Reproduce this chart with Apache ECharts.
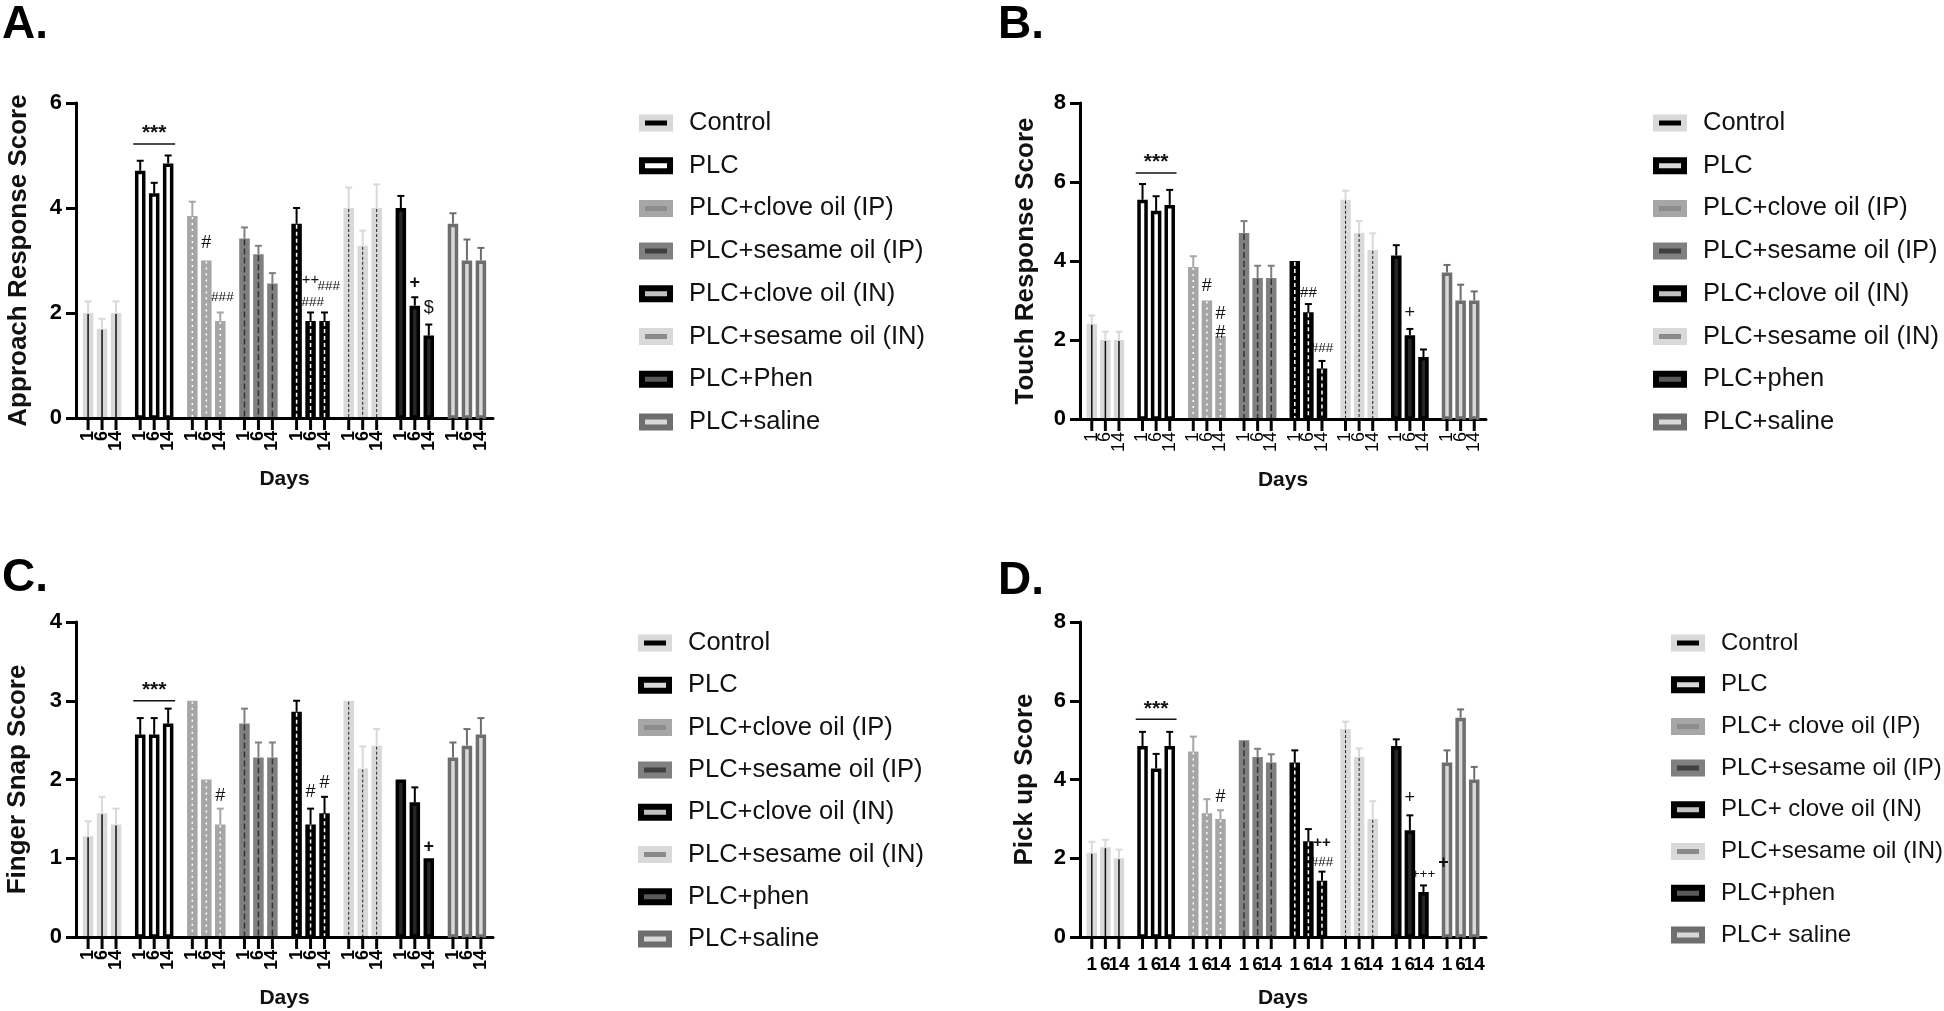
<!DOCTYPE html>
<html><head><meta charset="utf-8">
<script src="https://cdn.jsdelivr.net/npm/echarts@6/dist/echarts.min.js"></script>
<style>html,body{margin:0;padding:0;background:#fff}#c{width:1944px;height:1011px}</style>
</head><body><div id="c"></div>
<script>
// ---------------- DATA ----------------
const dayLabels = ['1', '6', '14'];
const groupsA = ['Control', 'PLC', 'PLC+clove oil (IP)', 'PLC+sesame oil (IP)', 'PLC+clove oil (IN)', 'PLC+sesame oil (IN)', 'PLC+Phen', 'PLC+saline'];
const groupsB = ['Control', 'PLC', 'PLC+clove oil (IP)', 'PLC+sesame oil (IP)', 'PLC+clove oil (IN)', 'PLC+sesame oil (IN)', 'PLC+phen', 'PLC+saline'];
const groupsC = ['Control', 'PLC', 'PLC+clove oil (IP)', 'PLC+sesame oil (IP)', 'PLC+clove oil (IN)', 'PLC+sesame oil (IN)', 'PLC+phen', 'PLC+saline'];
const groupsD = ['Control', 'PLC', 'PLC+ clove oil (IP)', 'PLC+sesame oil (IP)', 'PLC+ clove oil (IN)', 'PLC+sesame oil (IN)', 'PLC+phen', 'PLC+ saline'];

const meanA = [[2.0, 1.7, 2.0], [4.71, 4.28, 4.85], [3.85, 3.0, 1.85], [3.42, 3.12, 2.56], [3.7, 1.85, 1.85], [4.0, 3.28, 4.0], [4.0, 2.14, 1.57], [3.7, 3.0, 3.0]];
const errA  = [[0.22, 0.19, 0.22], [0.19, 0.2, 0.15], [0.27, 0, 0.16], [0.21, 0.16, 0.2], [0.3, 0.16, 0.16], [0.39, 0.29, 0.45], [0.23, 0.16, 0.21], [0.2, 0.4, 0.24]];
const meanB = [[2.41, 2.0, 2.0], [5.55, 5.27, 5.42], [3.85, 3.0, 2.1], [4.71, 3.57, 3.57], [4.0, 2.7, 1.28], [5.55, 4.71, 4.28], [4.14, 2.12, 1.57], [3.71, 3.0, 3.0]];
const errB  = [[0.21, 0.21, 0.21], [0.4, 0.37, 0.38], [0.27, 0, 0], [0.3, 0.31, 0.31], [0, 0.21, 0.19], [0.23, 0.3, 0.42], [0.26, 0.16, 0.19], [0.19, 0.4, 0.23]];
const meanC = [[1.28, 1.57, 1.43], [2.57, 2.57, 2.71], [3.0, 2.0, 1.43], [2.71, 2.28, 2.28], [2.86, 1.43, 1.57], [3.0, 2.14, 2.43], [2.0, 1.71, 1.0], [2.28, 2.43, 2.57]];
const errC  = [[0.19, 0.21, 0.2], [0.21, 0.21, 0.19], [0, 0, 0.2], [0.19, 0.19, 0.19], [0.14, 0.2, 0.21], [0, 0.28, 0.21], [0, 0.19, 0], [0.19, 0.21, 0.21]];
const meanD = [[2.14, 2.28, 2.0], [4.85, 4.28, 4.85], [4.71, 3.14, 3.0], [5.0, 4.57, 4.43], [4.43, 2.43, 1.43], [5.28, 4.57, 3.0], [4.85, 2.71, 1.14], [4.43, 5.57, 4.0]];
const errD  = [[0.28, 0.19, 0.22], [0.36, 0.37, 0.36], [0.38, 0.36, 0.22], [0, 0.21, 0.21], [0.31, 0.31, 0.23], [0.19, 0.22, 0.45], [0.17, 0.38, 0.17], [0.31, 0.21, 0.32]];

// annotations: [group, position within group (day slot), text, y value, bold]
const annA = [[2, 1, '#', 3.33, 0], [2, 2.15, '###', 2.29, 0], [4, 1, '++', 2.63, 0], [4, 2.3, '###', 2.51, 0], [4, 1.15, '###', 2.21, 0], [6, 1, '+', 2.57, 1], [6, 2, '$', 2.1, 0]];
const annB = [[2, 1, '#', 3.37, 0], [2, 2, '#', 2.66, 0], [2, 2, '#', 2.18, 0], [4, 1, '##', 3.19, 0], [4, 2, '###', 1.8, 0], [6, 1, '+', 2.68, 0]];
const annC = [[2, 2, '#', 1.79, 0], [4, 1, '#', 1.84, 0], [4, 2, '#', 1.96, 0], [6, 2, '+', 1.14, 1]];
const annD = [[2, 2, '#', 3.55, 0], [4, 2, '++', 2.39, 1], [4, 2, '###', 1.9, 0], [6, 1, '+', 3.53, 0], [6, 2, '+++', 1.6, 0], [7, -0.25, '+', 1.88, 1]];

// significance bar over PLC group: [group, y value]
const sigA = [1, 5.22];
const sigB = [1, 6.23];
const sigC = [1, 3.0];
const sigD = [1, 5.53];

// ---------------- STYLES ----------------
const FONT = '"Liberation Sans", Arial, Helvetica, sans-serif';
const barStyles = [
  { fill: '#d9d9d9', center: '#111', cw: 1.5, dash: null, err: '#d9d9d9' },
  { fill: '#ffffff', stroke: '#000', lw: 3.5, err: '#000' },
  { fill: '#a6a6a6', center: '#fff', cw: 1.5, dash: [2, 4], err: '#a6a6a6' },
  { fill: '#808080', center: '#333', cw: 1.5, dash: [6, 3], err: '#808080' },
  { fill: '#000000', center: '#fff', cw: 1.5, dash: [4, 3], err: '#000' },
  { fill: '#d9d9d9', center: '#222', cw: 1, dash: [3, 2], err: '#d9d9d9' },
  { fill: '#262626', stroke: '#000', lw: 3.5, err: '#000' },
  { fill: '#d9d9d9', stroke: '#6e6e6e', lw: 3.5, err: '#6e6e6e' }
];
const legendIcons = [
  { color: '#000', borderColor: '#d9d9d9' },
  { color: '#d9d9d9', borderColor: '#000' },
  { color: '#8c8c8c', borderColor: '#a6a6a6' },
  { color: '#404040', borderColor: '#808080' },
  { color: '#c0c0c0', borderColor: '#000' },
  { color: '#8a8a8a', borderColor: '#d9d9d9' },
  { color: '#595959', borderColor: '#000' },
  { color: '#d9d9d9', borderColor: '#6e6e6e' }
];

const panels = [
  { title: 'A.', tl: 2, tt: 2, yName: 'Approach Response Score', yGap: 44, max: 6, interval: 2, names: groupsA, mean: meanA, err: errA, ann: annA, sig: sigA,
    grid: { left: 76, top: 103, width: 417, height: 315 }, tick: 'rotBold', leg: { left: 639, top: 110, gap: 16.7, fs: 25.5 }, plcWhite: true },
  { title: 'B.', tl: 998, tt: 2, yName: 'Touch Response Score', yGap: 41, max: 8, interval: 2, names: groupsB, mean: meanB, err: errB, ann: annB, sig: sigB,
    grid: { left: 1080, top: 103, width: 406, height: 316 }, tick: 'rot', leg: { left: 1653, top: 110, gap: 16.7, fs: 25.5 } },
  { title: 'C.', tl: 2, tt: 555, yName: 'Finger Snap Score', yGap: 45, max: 4, interval: 1, names: groupsC, mean: meanC, err: errC, ann: annC, sig: sigC,
    grid: { left: 76, top: 622, width: 417, height: 315 }, tick: 'rotBold', leg: { left: 638, top: 630, gap: 16.3, fs: 25.5 } },
  { title: 'D.', tl: 998, tt: 558, yName: 'Pick up Score', yGap: 42, max: 8, interval: 2, names: groupsD, mean: meanD, err: errD, ann: annD, sig: sigD,
    grid: { left: 1080, top: 622, width: 406, height: 315 }, tick: 'horiz', leg: { left: 1671, top: 630, gap: 15.7, fs: 24 } }
];

const STEP = 0.268; // spacing of bars within group as fraction of band
const BAR_W = 10.5;

function makeBar(p, gi) {
  const st = barStyles[gi];
  return function (params, api) {
    const g = api.value(0), d = api.value(1), m = api.value(2), e = api.value(3);
    const band = api.size([1, 0])[0];
    const step = band * STEP;
    const base = api.coord([g, 0]);
    const x = base[0] + (d - 1) * step;
    const y0 = base[1];
    const yt = api.coord([g, m])[1];
    const ye = api.coord([g, m + e])[1];
    const ch = [];
    const lw = st.stroke ? st.lw : 0;
    ch.push({ type: 'rect', shape: { x: x - BAR_W / 2 + lw / 2, y: yt + lw / 2, width: BAR_W - lw, height: Math.max(0, y0 - 1 - yt - lw / 2) },
      style: { fill: st.fill, stroke: st.stroke || null, lineWidth: lw } });
    if (st.center) {
      ch.push({ type: 'line', shape: { x1: x, y1: yt + 1, x2: x, y2: y0 - 1 }, style: { stroke: st.center, lineWidth: st.cw, lineDash: st.dash || null } });
    }
    if (e > 0) {
      ch.push({ type: 'line', shape: { x1: x, y1: yt, x2: x, y2: ye }, style: { stroke: st.err, lineWidth: 2 } });
      ch.push({ type: 'line', shape: { x1: x - 3.5, y1: ye, x2: x + 3.5, y2: ye }, style: { stroke: st.err, lineWidth: 2 } });
    }
    ch.push({ type: 'line', shape: { x1: x, y1: y0, x2: x, y2: y0 + 12 }, style: { stroke: '#000', lineWidth: 3 } });
    const txt = dayLabels[d];
    if (p.tick === 'horiz') {
      ch.push({ type: 'text', x: x, y: y0 + 28, style: { text: txt, align: 'center', verticalAlign: 'middle', fontSize: 19, fontWeight: 'bold', fontFamily: FONT, fill: '#000' } });
    } else {
      ch.push({ type: 'text', x: x, y: y0 + 13, rotation: Math.PI / 2,
        style: { text: txt, x: 0, y: 0, align: 'right', verticalAlign: 'middle', fontSize: 18, fontWeight: p.tick === 'rotBold' ? 'bold' : 'normal', fontFamily: FONT, fill: '#000' } });
    }
    return { type: 'group', children: ch };
  };
}

function makeAnn(p) {
  return function (params, api) {
    const a = p.ann[params.dataIndex];
    const band = api.size([1, 0])[0];
    const step = band * STEP;
    const c = api.coord([a[0], a[3]]);
    const x = c[0] + (a[1] - 1) * step;
    const fs = a[2].length === 1 ? 18 : (a[2].length === 2 ? 15 : 13.5);
    return { type: 'text', x: x, y: c[1], style: { text: a[2], align: 'center', verticalAlign: 'middle', fontSize: fs, fontWeight: a[4] ? 'bold' : 'normal', fontFamily: FONT, fill: '#111' } };
  };
}

function makeSig(p) {
  return function (params, api) {
    const band = api.size([1, 0])[0];
    const step = band * STEP;
    const c = api.coord([p.sig[0], p.sig[1]]);
    return { type: 'group', children: [
      { type: 'line', shape: { x1: c[0] - 1.5 * step, y1: c[1], x2: c[0] + 1.5 * step, y2: c[1] }, style: { stroke: '#111', lineWidth: 1.5 } },
      { type: 'text', x: c[0], y: c[1], style: { text: '***', align: 'center', verticalAlign: 'bottom', fontSize: 21, fontWeight: 'bold', fontFamily: FONT, fill: '#111' } }
    ] };
  };
}

const option = { animation: false, backgroundColor: '#fff', title: [], grid: [], xAxis: [], yAxis: [], legend: [], series: [] };

panels.forEach((p, pi) => {
  option.title.push({ text: p.title, left: p.tl, top: p.tt, padding: 0, textStyle: { fontSize: 46, fontWeight: 'bold', color: '#000', fontFamily: FONT } });
  option.grid.push(Object.assign({ containLabel: false }, p.grid));
  option.xAxis.push({ type: 'category', gridIndex: pi, data: p.names, boundaryGap: true,
    axisLine: { show: true, onZero: true, lineStyle: { color: '#000', width: 3 } }, axisTick: { show: false }, axisLabel: { show: false },
    splitLine: { show: false },
    name: 'Days', nameLocation: 'middle', nameGap: 51, nameTextStyle: { fontSize: 21, fontWeight: 'bold', color: '#111', fontFamily: FONT } });
  option.yAxis.push({ type: 'value', gridIndex: pi, min: 0, max: p.max, interval: p.interval,
    axisLine: { show: true, lineStyle: { color: '#000', width: 3 } },
    axisTick: { show: true, length: 10, lineStyle: { color: '#000', width: 3 } },
    axisLabel: { margin: 14, fontSize: 22, fontWeight: 'bold', color: '#000', fontFamily: FONT },
    splitLine: { show: false },
    name: p.yName, nameLocation: 'middle', nameRotate: 90, nameGap: p.yGap,
    nameTextStyle: { fontSize: 26, fontWeight: 'bold', color: '#111', fontFamily: FONT } });
  option.legend.push({ orient: 'vertical', left: p.leg.left, top: p.leg.top, padding: 0, itemWidth: 28, itemHeight: 11, itemGap: p.leg.gap,
    selectedMode: false,
    textStyle: { fontSize: p.leg.fs, color: '#111', fontFamily: FONT, lineHeight: 26, padding: [0, 0, 0, 14] },
    data: p.names.map((n, gi) => {
      const ic = Object.assign({}, legendIcons[gi]);
      if (gi === 1 && p.plcWhite) ic.color = '#ffffff';
      return { name: n, icon: 'rect', itemStyle: Object.assign(ic, { borderWidth: 6 }) };
    }) });
  p.names.forEach((n, gi) => {
    option.series.push({ type: 'custom', name: n, xAxisIndex: pi, yAxisIndex: pi, clip: false, silent: true,
      encode: { x: 0, y: 2 },
      itemStyle: { color: barStyles[gi].fill },
      data: p.mean[gi].map((m, di) => [gi, di, m, p.err[gi][di]]),
      renderItem: makeBar(p, gi) });
  });
  option.series.push({ type: 'custom', name: 'ann' + pi, xAxisIndex: pi, yAxisIndex: pi, clip: false, silent: true,
    encode: { x: 0, y: 1 }, data: p.ann.map(a => [a[0], a[3]]), renderItem: makeAnn(p) });
  option.series.push({ type: 'custom', name: 'sig' + pi, xAxisIndex: pi, yAxisIndex: pi, clip: false, silent: true,
    encode: { x: 0, y: 1 }, data: [[p.sig[0], p.sig[1]]], renderItem: makeSig(p) });
});

const chart = echarts.init(document.getElementById('c'), null, { renderer: 'canvas' });
chart.setOption(option);
</script></body></html>
